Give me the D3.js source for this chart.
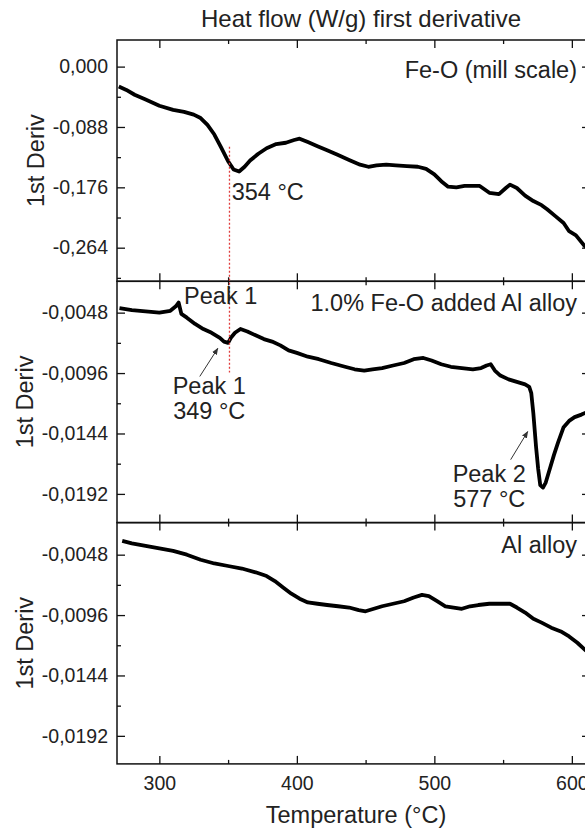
<!DOCTYPE html>
<html>
<head>
<meta charset="utf-8">
<script src="https://d3js.org/d3.v7.min.js"></script>
<style>
  body { margin: 0; background: #fff; }
  svg { display: block; font-family: Arial, "Liberation Sans", sans-serif; }
</style>
</head>
<body>
<div id="chart"></div>
<script>
// temperature axis
const tempTicks = [300, 400, 500, 600];
const tempMinor = [350, 450, 550];

// y ticks
const feoTicks = [0, -0.088, -0.176, -0.264];
const feoMinor = [-0.044, -0.132, -0.22, -0.308];
const alloyTicks = [-0.0048, -0.0096, -0.0144, -0.0192];
const alloyMinor = [-0.0072, -0.012, -0.0168];

// [temperature °C, 1st derivative]
const feoData = [
  [270.5, -0.029], [276, -0.034], [282, -0.041], [290, -0.048], [300, -0.057],
  [310, -0.063], [318, -0.066], [325, -0.070], [330, -0.075], [335, -0.085],
  [340, -0.099], [345, -0.118], [350, -0.138], [354, -0.150], [358, -0.153],
  [362, -0.146], [366, -0.137], [372, -0.127], [378, -0.119], [385, -0.113],
  [392, -0.111], [398, -0.107], [402, -0.105], [408, -0.110], [415, -0.116],
  [422, -0.122], [430, -0.129], [438, -0.136], [446, -0.143], [452, -0.146],
  [458, -0.144], [465, -0.143], [472, -0.144], [480, -0.145], [488, -0.146],
  [494, -0.149], [500, -0.157], [505, -0.167], [510, -0.175], [516, -0.176],
  [522, -0.174], [533, -0.174], [540, -0.184], [547, -0.186], [552, -0.177],
  [555, -0.172], [560, -0.177], [566, -0.188], [572, -0.196], [578, -0.202],
  [582, -0.208], [588, -0.218], [594, -0.228], [598, -0.240], [603, -0.246],
  [609, -0.261], [614, -0.268]
];

const feoAlloyData = [
  [271, -0.00445], [280, -0.0046], [290, -0.0047], [300, -0.0048], [308, -0.00465],
  [312, -0.0043], [314, -0.0040], [316, -0.0049], [320, -0.0052], [326, -0.0057],
  [332, -0.0061], [338, -0.0064], [344, -0.0068], [347, -0.0071], [350, -0.0072],
  [352, -0.0068], [355, -0.0064], [359, -0.0061], [364, -0.0063], [370, -0.0066],
  [376, -0.0069], [382, -0.0071], [388, -0.0074], [394, -0.0078], [400, -0.0080],
  [408, -0.0083], [416, -0.0085], [425, -0.0088], [435, -0.0091], [442, -0.0093],
  [449, -0.0094], [455, -0.0093], [462, -0.0092], [470, -0.0090], [478, -0.0088],
  [485, -0.0085], [492, -0.0084], [498, -0.0086], [505, -0.0089], [512, -0.0091],
  [520, -0.0092], [528, -0.0093], [534, -0.0092], [538, -0.0090], [541, -0.0089],
  [544, -0.0094], [548, -0.0098], [554, -0.0101], [560, -0.0103], [566, -0.0105],
  [569, -0.0107], [570.5, -0.0112], [572, -0.0128], [574, -0.0155], [575.5, -0.0172],
  [577, -0.0185], [579, -0.0187], [581, -0.0183], [584, -0.0172], [587, -0.0161],
  [590, -0.0151], [594, -0.0139], [598, -0.0134], [602, -0.0131], [607, -0.0129],
  [611, -0.0127], [614, -0.0126]
];

const alloyData = [
  [273, -0.0037], [280, -0.0039], [290, -0.0041], [300, -0.0043], [310, -0.0045],
  [320, -0.0048], [330, -0.0052], [340, -0.0055], [350, -0.0057], [360, -0.0059],
  [370, -0.0062], [378, -0.0065], [384, -0.0069], [390, -0.0074], [396, -0.0079],
  [402, -0.0083], [408, -0.0086], [415, -0.0087], [422, -0.0088], [430, -0.0089],
  [438, -0.0090], [445, -0.0092], [450, -0.0093], [456, -0.0091], [462, -0.0089],
  [470, -0.0087], [478, -0.0085], [485, -0.0082], [491, -0.0080], [496, -0.0081],
  [502, -0.0085], [508, -0.0089], [514, -0.0090], [520, -0.0091], [526, -0.0089],
  [532, -0.0088], [540, -0.0087], [548, -0.0087], [555, -0.0087], [560, -0.0090],
  [566, -0.0094], [572, -0.0099], [578, -0.0102], [585, -0.0106], [592, -0.0109],
  [598, -0.0113], [604, -0.0118], [610, -0.0124], [614, -0.0128]
];

const panelLabels = ["Fe-O (mill scale)", "1.0% Fe-O added Al alloy", "Al alloy"];

/** Layout */
const width = 585, height = 834;
const left = 117, right = 590;
const plotTop = 40, panelH = 241.3;
const textColor = "#222";
const tickFont = "19.5px", labelFont = "23.5px";

const locale = d3.formatLocale({ decimal: ",", thousands: ".", grouping: [3], currency: ["", ""], minus: "-" });

const panels = [
  { data: feoData, domain: [-0.313, 0.0388], ticks: feoTicks, minor: feoMinor, fmt: ".3f", label: panelLabels[0], labelDy: 38 },
  { data: feoAlloyData, domain: [-0.02148, -0.00231], ticks: alloyTicks, minor: alloyMinor, fmt: ".4f", label: panelLabels[1], labelDy: 30 },
  { data: alloyData, domain: [-0.02143, -0.00225], ticks: alloyTicks, minor: alloyMinor, fmt: ".4f", label: panelLabels[2], labelDy: 30 }
];

const x = d3.scaleLinear().domain([269.2, 613.2]).range([left, right]);

const svg = d3.select("#chart").append("svg")
  .attr("width", width)
  .attr("height", height);

const defs = svg.append("defs");
defs.append("marker")
  .attr("id", "arrow")
  .attr("viewBox", "0 0 10 10")
  .attr("refX", 9).attr("refY", 5)
  .attr("markerWidth", 7).attr("markerHeight", 7)
  .attr("orient", "auto")
  .append("path")
  .attr("d", "M0,1 L10,5 L0,9 z")
  .attr("fill", "#333");

/** Title */
svg.append("text")
  .attr("x", 361)
  .attr("y", 27)
  .attr("text-anchor", "middle")
  .attr("fill", textColor)
  .style("font-size", "24px")
  .text("Heat flow (W/g) first derivative");

function styleAxis(g, showLabels) {
  g.select(".domain").remove();
  g.selectAll(".tick line").attr("stroke", "#111").attr("stroke-width", 1.3);
  g.selectAll(".tick text")
    .attr("fill", textColor)
    .style("font-size", tickFont)
    .style("display", showLabels ? null : "none");
}

panels.forEach((p, i) => {
  const top = plotTop + i * panelH;
  const bottom = top + panelH;
  const y = d3.scaleLinear().domain(p.domain).range([bottom, top]);
  p.y = y;
  const last = i === panels.length - 1;

  const g = svg.append("g").attr("class", "panel");

  // clip
  defs.append("clipPath").attr("id", "clip" + i)
    .append("rect").attr("x", left).attr("y", top).attr("width", right - left).attr("height", panelH);

  // curve
  g.append("path")
    .datum(p.data)
    .attr("clip-path", "url(#clip" + i + ")")
    .attr("fill", "none")
    .attr("stroke", "#000")
    .attr("stroke-width", 3.8)
    .attr("stroke-linejoin", "round")
    .attr("d", d3.line().x(d => x(d[0])).y(d => y(d[1])));

  // left axis
  const yl = g.append("g").attr("transform", `translate(${left},0)`)
    .call(d3.axisLeft(y).tickValues(p.ticks).tickSize(-8).tickPadding(9).tickFormat(locale.format(p.fmt)));
  styleAxis(yl, true);
  const ylm = g.append("g").attr("transform", `translate(${left},0)`)
    .call(d3.axisLeft(y).tickValues(p.minor).tickSize(-4).tickFormat(""));
  styleAxis(ylm, false);

  // right axis
  const yr = g.append("g").attr("transform", `translate(${right},0)`)
    .call(d3.axisRight(y).tickValues(p.ticks).tickSize(-8).tickFormat(""));
  styleAxis(yr, false);
  const yrm = g.append("g").attr("transform", `translate(${right},0)`)
    .call(d3.axisRight(y).tickValues(p.minor).tickSize(-4).tickFormat(""));
  styleAxis(yrm, false);

  // top and bottom axes
  const xt = g.append("g").attr("transform", `translate(0,${top})`)
    .call(d3.axisTop(x).tickValues(tempTicks).tickSize(-8).tickFormat(""));
  styleAxis(xt, false);
  const xtm = g.append("g").attr("transform", `translate(0,${top})`)
    .call(d3.axisTop(x).tickValues(tempMinor).tickSize(-4).tickFormat(""));
  styleAxis(xtm, false);
  const xb = g.append("g").attr("transform", `translate(0,${bottom})`)
    .call(d3.axisBottom(x).tickValues(tempTicks).tickSize(-8).tickPadding(12).tickFormat(d3.format("d")));
  styleAxis(xb, last);
  const xbm = g.append("g").attr("transform", `translate(0,${bottom})`)
    .call(d3.axisBottom(x).tickValues(tempMinor).tickSize(-4).tickFormat(""));
  styleAxis(xbm, false);

  // frame
  g.append("rect")
    .attr("x", left).attr("y", top)
    .attr("width", right - left).attr("height", panelH)
    .attr("fill", "none")
    .attr("stroke", "#111")
    .attr("stroke-width", 1.5);

  // y axis title, placed left of the widest tick label
  const labelLeft = d3.min(yl.selectAll(".tick text").nodes(), n => n.getBBox().x) + left;
  g.append("text")
    .attr("transform", `translate(${labelLeft - 9},${(top + bottom) / 2}) rotate(-90)`)
    .attr("text-anchor", "middle")
    .attr("fill", textColor)
    .style("font-size", labelFont)
    .text("1st Deriv");

  // sample label
  g.append("text")
    .attr("x", right - 13)
    .attr("y", top + p.labelDy)
    .attr("text-anchor", "end")
    .attr("fill", textColor)
    .style("font-size", labelFont)
    .text(p.label);
});

/** X axis title */
svg.append("text")
  .attr("x", 356)
  .attr("y", 823)
  .attr("text-anchor", "middle")
  .attr("fill", textColor)
  .style("font-size", labelFont)
  .text("Temperature (°C)");

/** Annotations */
const y1 = panels[0].y, y2 = panels[1].y;

// dotted guide at the Fe-O peak
svg.append("line")
  .attr("x1", x(351)).attr("x2", x(351))
  .attr("y1", y1(-0.117)).attr("y2", y2(-0.00955))
  .attr("stroke", "#e03c3c")
  .attr("stroke-width", 1.3)
  .attr("stroke-dasharray", "2,2");

function note(lines, tx, ty, scaleY, anchor) {
  const t = svg.append("text")
    .attr("x", x(tx))
    .attr("y", scaleY(ty))
    .attr("text-anchor", anchor)
    .attr("fill", textColor)
    .style("font-size", labelFont);
  lines.forEach((s, k) => {
    t.append("tspan").attr("x", x(tx)).attr("dy", k ? "1.06em" : 0).text(s);
  });
}

note(["354 °C"], 352.6, -0.1939, y1, "start");
note(["Peak 1"], 344.6, -0.00414, y2, "middle");
note(["Peak 1", "349 °C"], 336.3, -0.0113, y2, "middle");
note(["Peak 2", "577 °C"], 539.9, -0.01823, y2, "middle");

function arrow(t0, v0, t1, v1, scaleY) {
  svg.append("line")
    .attr("x1", x(t0)).attr("y1", scaleY(v0))
    .attr("x2", x(t1)).attr("y2", scaleY(v1))
    .attr("stroke", "#333")
    .attr("stroke-width", 1)
    .attr("marker-end", "url(#arrow)");
}

arrow(329.4, -0.00987, 342.5, -0.00764, y2);
arrow(555.5, -0.01648, 567.9, -0.01425, y2);
</script>
</body>
</html>
